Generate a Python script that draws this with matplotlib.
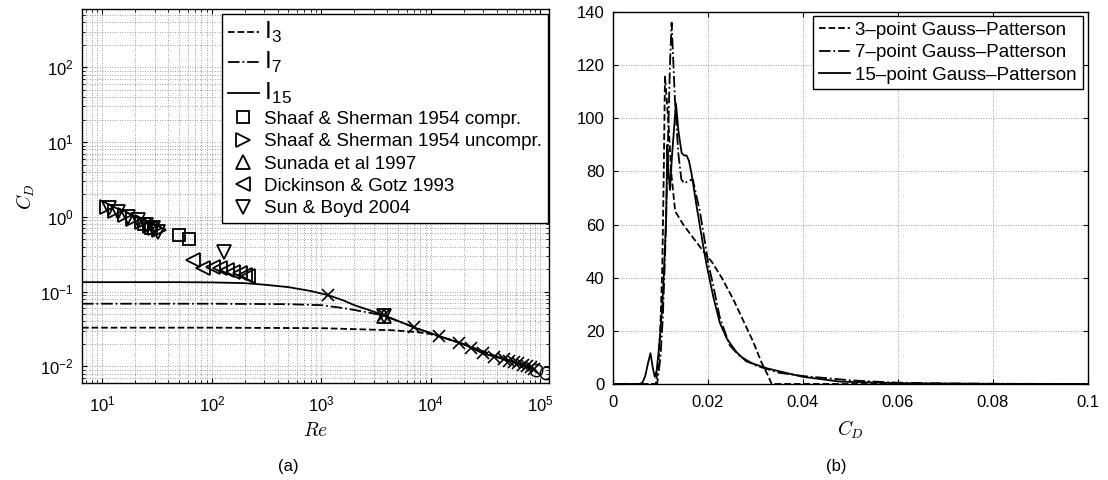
import matplotlib
matplotlib.use("Agg")
import matplotlib.pyplot as plt

plt.rcParams['font.family'] = ['Liberation Sans', 'DejaVu Sans']
plt.rcParams['mathtext.fontset'] = 'cm'
plt.rcParams['font.size'] = 12

# ---- (a) drag coefficient vs Reynolds number ----
re_i3 = [6.5, 100, 1000, 3000, 4500, 6000, 8000, 10000, 12000, 20000, 40000, 90000]
cd_i3 = [0.033, 0.033, 0.0325, 0.031, 0.0305, 0.0295, 0.0285, 0.027, 0.0253, 0.0198, 0.0136, 0.0090]

re_i7 = [6.5, 100, 500, 1000, 1500, 1860, 2800, 3700, 7000, 12000, 20000, 40000, 90000]
cd_i7 = [0.069, 0.069, 0.068, 0.066, 0.061, 0.058, 0.052, 0.048, 0.0334, 0.0253, 0.0198, 0.0136, 0.0090]

re_i15 = [6.5, 20, 50, 100, 200, 300, 500, 800, 1160, 1600, 2000, 2800, 3700, 7000,
          12000, 20000, 30000, 47000, 70000, 90000]
cd_i15 = [0.134, 0.134, 0.134, 0.133, 0.130, 0.124, 0.115, 0.102, 0.0897, 0.076, 0.066,
          0.056, 0.0484, 0.0334, 0.0253, 0.0198, 0.0149, 0.0124, 0.0106, 0.0091]

re_cross = [1160, 3700, 7000, 11800, 18000, 23300, 30000, 38000, 46800, 52000, 57500,
            63000, 69800, 76000, 82600, 88000]
cd_cross = [0.0897, 0.0484, 0.0334, 0.0253, 0.0204, 0.0175, 0.0149, 0.0135, 0.0124,
            0.0118, 0.0114, 0.0110, 0.0106, 0.0101, 0.0097, 0.0092]

re_circ = [92000, 113000]
cd_circ = [0.0089, 0.0083]

re_ss_compr = [24, 28, 50, 61.5]
cd_ss_compr = [0.80, 0.72, 0.574, 0.507]

re_ss_uncompr = [11, 13, 16, 19, 23, 27, 30, 33]
cd_ss_uncompr = [1.35, 1.2, 1.05, 0.95, 0.85, 0.75, 0.7, 0.66]

re_sunada = [3700]
cd_sunada = [0.048]

re_dick = [67, 83, 103, 118, 138, 155, 180, 200, 215]
cd_dick = [0.265, 0.207, 0.213, 0.207, 0.194, 0.183, 0.177, 0.168, 0.163]

re_sunboyd = [11.5, 14, 17, 21, 25, 29, 32, 130, 3700]
cd_sunboyd = [1.3, 1.15, 1.0, 0.9, 0.78, 0.7, 0.63, 0.34, 0.047]

# ---- (b) probability density of C_D ----
x_3pt = [0.0, 0.0088, 0.0090, 0.0096, 0.0100, 0.0104, 0.0107, 0.01095, 0.01165, 0.01235,
         0.0131, 0.0148, 0.0169, 0.0190, 0.0208, 0.0229, 0.0253, 0.0274, 0.0295, 0.0313,
         0.0327, 0.0334, 0.040, 0.1]
y_3pt = [0, 0, 0, 8, 22, 45, 80, 116, 99, 78, 65, 60, 55, 50, 46, 40, 32, 24, 16, 8, 3, 0, 0, 0]

x_7pt = [0.0, 0.0093, 0.0100, 0.0105, 0.0110, 0.0115, 0.0120, 0.01235, 0.01305, 0.01375,
         0.0144, 0.0150, 0.0160, 0.0168, 0.0183, 0.0194, 0.0201, 0.0210, 0.0225, 0.0246,
         0.0267, 0.030, 0.035, 0.040, 0.045, 0.050, 0.055, 0.060, 0.070, 0.080, 0.1]
y_7pt = [0, 0, 10, 25, 50, 85, 120, 136, 107, 87, 77, 75.5, 76.5, 77, 65, 53, 45, 38, 25,
         14.5, 10.5, 7, 4.2, 3.0, 2.2, 1.4, 0.9, 0.5, 0.2, 0.1, 0]

x_15pt = [0.0, 0.0055, 0.0062, 0.0068, 0.0074, 0.0079, 0.0084, 0.0088, 0.0092, 0.0096,
          0.0100, 0.0104, 0.0108, 0.0112, 0.01144, 0.0117, 0.0120, 0.0124, 0.01326, 0.0138,
          0.01446, 0.0150, 0.0155, 0.0160, 0.01656, 0.0176, 0.0190, 0.0197, 0.0211, 0.0225,
          0.0240, 0.0260, 0.0281, 0.0324, 0.040, 0.0478, 0.060, 0.080, 0.1]
y_15pt = [0, 0, 0.5, 3, 8, 11.6, 6, 2.7, 5, 12, 20, 30, 45, 62, 90, 80, 73, 85, 105.6, 95,
          87, 86, 86, 84, 79, 67, 52, 45, 33, 23, 17, 12, 8.5, 5.9, 2.7, 0.9, 0.3, 0.05, 0]

fig = plt.figure(figsize=(11.08, 4.8), dpi=100)
ax1 = fig.add_axes([0.074, 0.202, 0.4215, 0.779])
ax2 = fig.add_axes([0.5532, 0.200, 0.4287, 0.775])

lw = 1.3
ax1.loglog(re_i3, cd_i3, 'k--', lw=lw, label=r'$\mathregular{I}_{\mathregular{3}}$')
ax1.loglog(re_i7, cd_i7, 'k-.', lw=lw, label=r'$\mathregular{I}_{\mathregular{7}}$')
ax1.loglog(re_i15, cd_i15, 'k-', lw=lw, label=r'$\mathregular{I}_{\mathregular{15}}$')
ax1.loglog(re_cross, cd_cross, 'kx', ms=8, mew=1.2)
ax1.loglog(re_circ, cd_circ, 'ko', mfc='none', ms=9, mew=1.0)

mk = dict(ls='none', mfc='none', mec='k', mew=1.3)
ax1.loglog(re_ss_compr, cd_ss_compr, marker='s', ms=8.5, label='Shaaf & Sherman 1954 compr.', **mk)
ax1.loglog(re_ss_uncompr, cd_ss_uncompr, marker='>', ms=9.5, label='Shaaf & Sherman 1954 uncompr.', **mk)
ax1.loglog(re_sunada, cd_sunada, marker='^', ms=9.5, label='Sunada et al 1997', **mk)
ax1.loglog(re_dick, cd_dick, marker='<', ms=9.5, label='Dickinson & Gotz 1993', **mk)
ax1.loglog(re_sunboyd, cd_sunboyd, marker='v', ms=9.5, label='Sun & Boyd 2004', **mk)

ax1.set_xlim(6.5, 1.2e5)
ax1.set_ylim(0.006, 600)
ax1.grid(True, which='both', ls=(0, (1, 2)), color='0.5', lw=0.6)
ax1.set_xlabel(r'$Re$', fontsize=14, labelpad=6)
ax1.set_ylabel(r'$C_D$', fontsize=14, labelpad=2)
leg1 = ax1.legend(loc='upper right', bbox_to_anchor=(0.998, 0.987), borderaxespad=0,
                  fancybox=False, edgecolor='k', framealpha=1, fontsize=13.5,
                  handlelength=1.7, labelspacing=0.28, borderpad=0.3, numpoints=1,
                  handletextpad=0.27)
leg1.get_frame().set_linewidth(1.0)
for t in leg1.get_texts()[:3]:
    t.set_fontsize(17.5)

ax2.plot(x_3pt, y_3pt, 'k--', lw=lw, label='3–point Gauss–Patterson')
ax2.plot(x_7pt, y_7pt, 'k-.', lw=lw, label='7–point Gauss–Patterson')
ax2.plot(x_15pt, y_15pt, 'k-', lw=lw, label='15–point Gauss–Patterson')
ax2.set_xlim(0, 0.1)
ax2.set_ylim(0, 140)
ax2.set_xticks([0, 0.02, 0.04, 0.06, 0.08, 0.1], ['0', '0.02', '0.04', '0.06', '0.08', '0.1'])
ax2.set_yticks(range(0, 141, 20))
ax2.grid(True, ls=(0, (1, 2)), color='0.5', lw=0.6)
ax2.set_xlabel(r'$C_D$', fontsize=14, labelpad=6)
leg2 = ax2.legend(loc='upper right', bbox_to_anchor=(0.989, 0.989), borderaxespad=0,
                  fancybox=False, edgecolor='k', framealpha=1, fontsize=13.5,
                  handlelength=1.7, labelspacing=0.28, borderpad=0.3, handletextpad=0.27)
leg2.get_frame().set_linewidth(1.0)

for ax in (ax1, ax2):
    ax.tick_params(which='both', direction='in', top=True, right=True, labelsize=12)
    ax.tick_params(axis='x', which='both', pad=8)
    ax.tick_params(axis='y', which='both', pad=6)
    for s in ax.spines.values():
        s.set_linewidth(1.0)

fig.text(288 / 1108, 1 - 467 / 480, '(a)', ha='center', va='center', fontsize=12)
fig.text(836 / 1108, 1 - 467 / 480, '(b)', ha='center', va='center', fontsize=12)

fig.savefig('out.png', dpi=100)
